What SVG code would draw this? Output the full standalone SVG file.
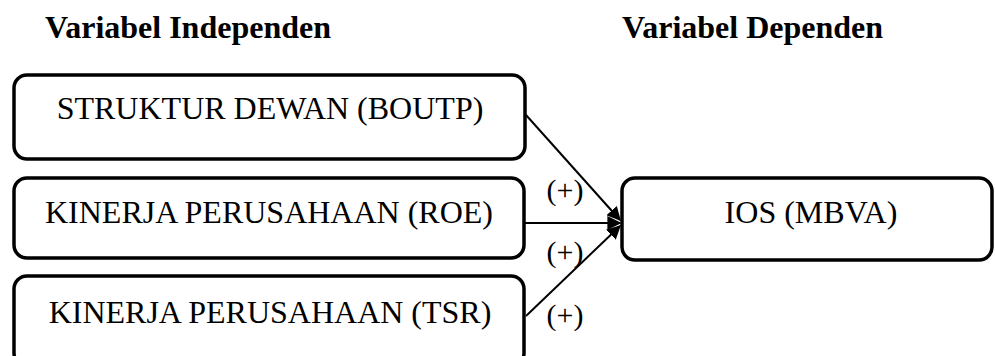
<svg xmlns="http://www.w3.org/2000/svg" width="995" height="356" viewBox="0 0 995 356">
  <style>
    .box { fill: #fff; stroke: #000; stroke-width: 3.5; }
    .lbl { font-family: "Liberation Serif", "Times New Roman", serif; font-size: 32px; fill: #000; text-anchor: middle; }
    .head { font-family: "Liberation Serif", "Times New Roman", serif; font-size: 32px; font-weight: bold; fill: #000; }
    .sign { font-family: "Liberation Serif", "Times New Roman", serif; font-size: 30px; fill: #000; text-anchor: middle; }
    .edge { stroke: #000; stroke-width: 2; fill: none; marker-end: url(#arrow); }
  </style>
  <defs>
    <marker id="arrow" viewBox="0 0 10 10" refX="9" refY="5" markerWidth="7" markerHeight="7" orient="auto">
      <path d="M0,0 L10,5 L0,10 z" fill="#000"/>
    </marker>
  </defs>
  <rect width="995" height="356" fill="#fff"/>

  <text class="head" x="45" y="38">Variabel Independen</text>
  <text class="head" x="622" y="38">Variabel Dependen</text>

  <g id="boutp">
    <rect class="box" x="14" y="75" width="511" height="84" rx="13"/>
    <text class="lbl" x="270" y="119">STRUKTUR DEWAN (BOUTP)</text>
  </g>
  <g id="roe">
    <rect class="box" x="14" y="178" width="510" height="80" rx="13"/>
    <text class="lbl" x="269" y="223">KINERJA PERUSAHAAN (ROE)</text>
  </g>
  <g id="tsr">
    <rect class="box" x="14" y="276" width="510" height="90" rx="13"/>
    <text class="lbl" x="270" y="323">KINERJA PERUSAHAAN (TSR)</text>
  </g>
  <g id="ios">
    <rect class="box" x="622" y="178" width="370" height="82" rx="13"/>
    <text class="lbl" x="811" y="223">IOS (MBVA)</text>
  </g>

  <g id="connectors">
    <line class="edge" x1="526" y1="115" x2="620" y2="220"/>
    <line class="edge" x1="525" y1="223" x2="620" y2="223"/>
    <line class="edge" x1="526" y1="316" x2="620" y2="226"/>
    <text class="sign" x="565" y="200">(+)</text>
    <text class="sign" x="565" y="262">(+)</text>
    <text class="sign" x="565" y="325">(+)</text>
  </g>
</svg>
